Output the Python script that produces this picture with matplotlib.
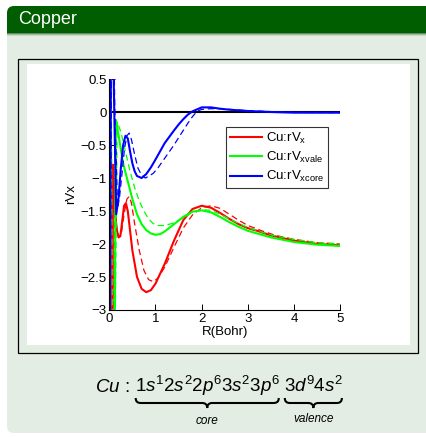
import matplotlib
matplotlib.use("Agg")
import matplotlib.pyplot as plt
from matplotlib.patches import FancyBboxPatch, Rectangle, PathPatch
from matplotlib.path import Path

plt.rcParams['font.family'] = ['Liberation Sans', 'DejaVu Sans']
plt.rcParams['mathtext.fontset'] = 'custom'
plt.rcParams['mathtext.rm'] = 'Liberation Sans'
plt.rcParams['mathtext.it'] = 'Liberation Sans:italic'

# ---- data (R in Bohr, rVx) ----
# values beyond the y-range are the spikes near the nucleus (clipped)
x_red = [0.02, 0.06, 0.08, 0.12, 0.16, 0.2, 0.24, 0.28, 0.32, 0.36, 0.4, 0.45, 0.5, 0.6, 0.7,
         0.8, 0.9, 1.0, 1.2, 1.4, 1.6, 1.8, 2.0, 2.2, 2.4, 2.6, 2.8, 3.0, 3.2, 3.5, 4.0, 4.5, 5.0]
y_red = [3, -6, -0.8, -1.45, -1.78, -1.9, -1.88, -1.65, -1.42, -1.38, -1.5, -1.8, -2.1, -2.5, -2.68,
         -2.73, -2.7, -2.6, -2.3, -1.95, -1.64, -1.47, -1.42, -1.45, -1.53, -1.62, -1.7, -1.76, -1.8,
         -1.87, -1.95, -2.0, -2.02]
x_red_d = [0.03, 0.07, 0.12, 0.17, 0.22, 0.27, 0.32, 0.38, 0.43, 0.48, 0.55, 0.65, 0.75, 0.85, 0.95,
           1.05, 1.2, 1.4, 1.6, 1.8, 2.0, 2.2, 2.4, 2.6, 2.8, 3.0, 3.3, 3.6, 4.0, 4.5, 5.0]
y_red_d = [3, -6, -1.5, -1.8, -1.9, -1.8, -1.55, -1.32, -1.28, -1.38, -1.7, -2.1, -2.4, -2.54, -2.57,
           -2.52, -2.35, -2.05, -1.76, -1.56, -1.45, -1.42, -1.46, -1.55, -1.64, -1.72, -1.8, -1.87,
           -1.93, -1.98, -2.0]

x_grn = [0, 0.025, 0.1, 0.14, 0.2, 0.3, 0.4, 0.5, 0.6, 0.7, 0.8, 0.9, 1.0, 1.1, 1.2, 1.4, 1.6, 1.8,
         2.0, 2.2, 2.4, 2.6, 2.8, 3.0, 3.2, 3.5, 4.0, 4.5, 5.0]
y_grn = [3, -6, -6, -0.12, -0.35, -0.78, -1.05, -1.32, -1.55, -1.7, -1.79, -1.84, -1.86, -1.85, -1.81,
         -1.7, -1.59, -1.51, -1.49, -1.52, -1.59, -1.67, -1.74, -1.8, -1.84, -1.9, -1.97, -2.01, -2.03]
x_grn_d = [0, 0.02, 0.09, 0.17, 0.25, 0.35, 0.45, 0.55, 0.65, 0.75, 0.85, 0.95, 1.05, 1.2, 1.4, 1.6,
           1.8, 2.0, 2.2, 2.4, 2.6, 2.8, 3.0, 3.3, 3.6, 4.0, 4.5, 5.0]
y_grn_d = [3, 3, -6, -0.15, -0.3, -0.6, -0.9, -1.15, -1.35, -1.5, -1.62, -1.69, -1.72, -1.72, -1.68,
           -1.6, -1.52, -1.48, -1.49, -1.55, -1.62, -1.69, -1.75, -1.82, -1.88, -1.93, -1.98, -2.0]

x_blu = [0, 0.04, 0.1, 0.15, 0.2, 0.25, 0.3, 0.35, 0.4, 0.45, 0.5, 0.55, 0.6, 0.7, 0.8,
         0.9, 1.0, 1.2, 1.4, 1.5, 1.6, 1.7, 1.8, 2.0, 2.2, 2.4, 2.6, 2.8, 3.0, 3.5, 4.0, 5.0]
y_blu = [-6, 3, 0.3, -1.55, -1.3, -0.85, -0.5, -0.36, -0.4, -0.6, -0.78, -0.9, -0.97, -1.0,
         -0.94, -0.84, -0.72, -0.47, -0.28, -0.19, -0.11, -0.04, 0.01, 0.07, 0.07, 0.05, 0.035, 0.025,
         0.015, 0.0, -0.01, -0.01]
x_blu_d = [0, 0.06, 0.12, 0.18, 0.22, 0.28, 0.33, 0.38, 0.43, 0.48, 0.55, 0.62, 0.7, 0.78,
           0.86, 0.95, 1.05, 1.2, 1.4, 1.5, 1.6, 1.7, 1.8, 1.9, 2.0, 2.2, 2.4, 2.6, 2.8, 3.0, 3.5, 4.0, 5.0]
y_blu_d = [-6, 3, 0.0, -1.45, -1.3, -0.9, -0.55, -0.36, -0.32, -0.42, -0.65, -0.85, -0.96, -1.0,
           -0.97, -0.93, -0.85, -0.7, -0.5, -0.39, -0.28, -0.17, -0.07, 0.01, 0.04, 0.05, 0.05, 0.04,
           0.03, 0.02, 0.005, -0.005, -0.01]

labels = ['Cu:rV$_\\mathregular{x}$', 'Cu:rV$_\\mathregular{xvale}$', 'Cu:rV$_\\mathregular{xcore}$']
xticks = [0, 1, 2, 3, 4, 5]
yticks = [-3, -2.5, -2, -1.5, -1, -0.5, 0, 0.5]
ytick_labels = ['\u22123', '\u22122.5', '\u22122', '\u22121.5', '\u22121', '\u22120.5', '0', '0.5']

W, H = 427, 437
fig = plt.figure(figsize=(W / 100, H / 100), dpi=100)
fig.patch.set_facecolor('white')

# background "beamer block" drawn in pixel coordinates
bg = fig.add_axes([0, 0, 1, 1], zorder=0)
bg.set_xlim(0, W)
bg.set_ylim(H, 0)
bg.axis('off')

body = '#e4ede4'
bg.add_patch(FancyBboxPatch((7, 15), 440, 418, boxstyle='round,pad=0,rounding_size=7',
                            fc=body, ec='none'))
bg.add_patch(FancyBboxPatch((7, 6), 440, 27, boxstyle='round,pad=0,rounding_size=7',
                            fc='#005e00', ec='none'))
bg.add_patch(Rectangle((7, 20), 440, 13, fc='#005e00', ec='none'))
for i, c in enumerate(['#5c8f5c', '#9dbb9d', '#c8d9c8']):
    bg.add_patch(Rectangle((7, 33 + i), 440, 1, fc=c, ec='none'))
bg.text(18, 20, 'Copper', color='white', fontsize=13, va='center', ha='left')

bg.add_patch(Rectangle((18, 59), 400, 294, fc='none', ec='black', lw=0.9))
bg.add_patch(Rectangle((27, 64), 383, 281, fc='white', ec='none'))

# formula with underbraces
fs = 13.5
y_base = 392
t1 = bg.text(95, y_base, '$Cu$ :', fontsize=fs, va='baseline')
fig.canvas.draw()
r = fig.canvas.get_renderer()
e1 = t1.get_window_extent(r)
t2 = bg.text(e1.x1 + 5, y_base, '$1s^1 2s^2 2p^6 3s^2 3p^6$', fontsize=fs, va='baseline')
e2 = t2.get_window_extent(r)
t3 = bg.text(e2.x1 + 4, y_base, '$3d^9 4s^2$', fontsize=fs, va='baseline')
e3 = t3.get_window_extent(r)


def brace(xa, xb, y, d=10):
    xm = (xa + xb) / 2
    q = 5
    verts = [(xa, y), (xa, y + d / 2), (xa + q, y + d / 2),
             (xm - q, y + d / 2),
             (xm, y + d / 2), (xm, y + d),
             (xm, y + d / 2), (xm + q, y + d / 2),
             (xb - q, y + d / 2),
             (xb, y + d / 2), (xb, y)]
    codes = [Path.MOVETO, Path.CURVE3, Path.CURVE3, Path.LINETO, Path.CURVE3, Path.CURVE3,
             Path.CURVE3, Path.CURVE3, Path.LINETO, Path.CURVE3, Path.CURVE3]
    bg.add_patch(PathPatch(Path(verts, codes), fc='none', ec='black', lw=1.5))
    return xm


m2 = brace(e2.x0 + 1, e2.x1 - 1, 398)
m3 = brace(e3.x0 + 1, e3.x1 - 1, 398)
bg.text(m2, 421, 'core', fontsize=8.5, style='italic', ha='center', va='center')
bg.text(m3, 419, 'valence', fontsize=8.5, style='italic', ha='center', va='center')

# chart
ax = fig.add_axes([109.3 / W, 1 - 310 / H, 231 / W, 231 / H], zorder=1)
ax.set_facecolor('none')
ax.plot([0, 5], [0, 0], color='black', lw=1.5)
ax.plot(x_red, y_red, color='red', lw=1.5, label=labels[0])
ax.plot(x_red_d, y_red_d, color='red', lw=0.9, ls=(0, (5, 3)))
ax.plot(x_grn, y_grn, color='#00ff00', lw=1.5, label=labels[1])
ax.plot(x_grn_d, y_grn_d, color='#00ff00', lw=0.9, ls=(0, (5, 3)))
ax.plot(x_blu, y_blu, color='blue', lw=1.5, label=labels[2])
ax.plot(x_blu_d, y_blu_d, color='blue', lw=0.9, ls=(0, (5, 3)))

ax.set_xlim(0, 5)
ax.set_ylim(-3, 0.5)
ax.set_xticks(xticks)
ax.set_yticks(yticks)
ax.set_yticklabels(ytick_labels)
ax.spines['top'].set_visible(False)
ax.spines['right'].set_visible(False)
ax.spines['left'].set_linewidth(0.8)
ax.spines['bottom'].set_linewidth(0.8)
ax.tick_params(direction='in', length=4, width=0.7, labelsize=9.5, pad=2)
ax.set_xlabel('R(Bohr)', fontsize=9.5, labelpad=1)
ax.set_ylabel('rVx', fontsize=9.5, labelpad=2)

leg = ax.legend(loc='upper left', bbox_to_anchor=(0.505, 0.792), fontsize=9.5, frameon=True,
                fancybox=False, handlelength=2.4, handletextpad=0.3, borderpad=0.3,
                labelspacing=0.3, borderaxespad=0)
leg.get_frame().set_edgecolor('black')
leg.get_frame().set_linewidth(0.8)

fig.savefig('out.png', dpi=100)
